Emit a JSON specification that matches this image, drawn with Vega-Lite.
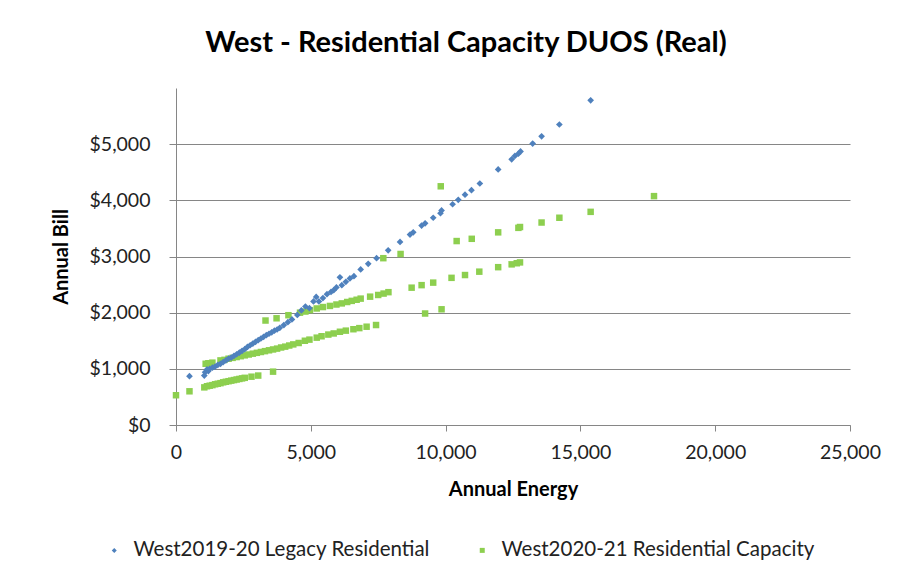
{
  "$schema": "https://vega.github.io/schema/vega-lite/v6.json",
  "autosize": "none",
  "width": 674,
  "height": 337,
  "padding": {"left": 176, "top": 88, "right": 52, "bottom": 159},
  "background": "white",
  "config": {
    "font": "Lato",
    "view": {"stroke": null}
  },
  "title": {
    "text": "West - Residential Capacity DUOS (Real)",
    "font": "Lato",
    "fontSize": 29,
    "fontWeight": "bold",
    "color": "#000000",
    "anchor": "middle",
    "dx": -47,
    "offset": 30
  },
  "datasets": {
    "legacy": [
      {"energy": 500, "bill": 870}, {"energy": 1050, "bill": 880}, {"energy": 1080, "bill": 940},
      {"energy": 1150, "bill": 990}, {"energy": 1200, "bill": 960}, {"energy": 1250, "bill": 1000},
      {"energy": 1350, "bill": 1020}, {"energy": 1450, "bill": 1040}, {"energy": 1550, "bill": 1070},
      {"energy": 1650, "bill": 1090}, {"energy": 1750, "bill": 1120}, {"energy": 1850, "bill": 1150},
      {"energy": 1950, "bill": 1180}, {"energy": 2050, "bill": 1200}, {"energy": 2150, "bill": 1230},
      {"energy": 2250, "bill": 1260}, {"energy": 2350, "bill": 1290}, {"energy": 2450, "bill": 1320},
      {"energy": 2550, "bill": 1350}, {"energy": 2650, "bill": 1390}, {"energy": 2750, "bill": 1420},
      {"energy": 2850, "bill": 1450}, {"energy": 2950, "bill": 1480}, {"energy": 3050, "bill": 1510},
      {"energy": 3150, "bill": 1540}, {"energy": 3250, "bill": 1570}, {"energy": 3350, "bill": 1600},
      {"energy": 3450, "bill": 1625}, {"energy": 3550, "bill": 1650}, {"energy": 3650, "bill": 1680},
      {"energy": 3750, "bill": 1700}, {"energy": 3850, "bill": 1730}, {"energy": 4000, "bill": 1780},
      {"energy": 4150, "bill": 1830}, {"energy": 4300, "bill": 1880}, {"energy": 4500, "bill": 1960},
      {"energy": 4650, "bill": 2040}, {"energy": 4800, "bill": 2110}, {"energy": 4950, "bill": 2080},
      {"energy": 5100, "bill": 2200}, {"energy": 5200, "bill": 2280}, {"energy": 5300, "bill": 2200},
      {"energy": 5450, "bill": 2260}, {"energy": 5600, "bill": 2330}, {"energy": 5750, "bill": 2370},
      {"energy": 5850, "bill": 2400}, {"energy": 5950, "bill": 2450}, {"energy": 6080, "bill": 2630},
      {"energy": 6150, "bill": 2490}, {"energy": 6300, "bill": 2550}, {"energy": 6450, "bill": 2610},
      {"energy": 6600, "bill": 2650}, {"energy": 6850, "bill": 2770}, {"energy": 7130, "bill": 2870},
      {"energy": 7440, "bill": 2970}, {"energy": 7870, "bill": 3110}, {"energy": 8310, "bill": 3260},
      {"energy": 8680, "bill": 3390}, {"energy": 8800, "bill": 3430}, {"energy": 9110, "bill": 3550},
      {"energy": 9240, "bill": 3590}, {"energy": 9540, "bill": 3690}, {"energy": 9810, "bill": 3770},
      {"energy": 9850, "bill": 3820}, {"energy": 10260, "bill": 3930}, {"energy": 10470, "bill": 4010},
      {"energy": 10720, "bill": 4100}, {"energy": 10960, "bill": 4180}, {"energy": 11270, "bill": 4300},
      {"energy": 11950, "bill": 4550}, {"energy": 12450, "bill": 4730}, {"energy": 12570, "bill": 4790},
      {"energy": 12700, "bill": 4830}, {"energy": 12780, "bill": 4870}, {"energy": 13230, "bill": 5010},
      {"energy": 13560, "bill": 5140}, {"energy": 14220, "bill": 5350}, {"energy": 15380, "bill": 5780}
    ],
    "capacity": [
      {"energy": 0, "bill": 530}, {"energy": 500, "bill": 600}, {"energy": 1050, "bill": 670},
      {"energy": 1150, "bill": 690}, {"energy": 1250, "bill": 700}, {"energy": 1350, "bill": 710},
      {"energy": 1450, "bill": 725}, {"energy": 1550, "bill": 735}, {"energy": 1650, "bill": 745},
      {"energy": 1750, "bill": 760}, {"energy": 1850, "bill": 770}, {"energy": 1950, "bill": 780},
      {"energy": 2050, "bill": 790}, {"energy": 2150, "bill": 800}, {"energy": 2250, "bill": 810},
      {"energy": 2350, "bill": 820}, {"energy": 2450, "bill": 830}, {"energy": 2550, "bill": 840},
      {"energy": 2800, "bill": 860}, {"energy": 3050, "bill": 880}, {"energy": 3600, "bill": 950},
      {"energy": 1100, "bill": 1090}, {"energy": 1200, "bill": 1100}, {"energy": 1350, "bill": 1110},
      {"energy": 1650, "bill": 1150}, {"energy": 1800, "bill": 1160}, {"energy": 1950, "bill": 1180},
      {"energy": 2100, "bill": 1195}, {"energy": 2250, "bill": 1210}, {"energy": 2400, "bill": 1225},
      {"energy": 2550, "bill": 1240}, {"energy": 2700, "bill": 1255}, {"energy": 2850, "bill": 1270},
      {"energy": 3000, "bill": 1285}, {"energy": 3150, "bill": 1300}, {"energy": 3300, "bill": 1315},
      {"energy": 3450, "bill": 1330}, {"energy": 3600, "bill": 1345}, {"energy": 3750, "bill": 1360},
      {"energy": 3900, "bill": 1380}, {"energy": 4050, "bill": 1395}, {"energy": 4200, "bill": 1415},
      {"energy": 4350, "bill": 1435}, {"energy": 4550, "bill": 1460}, {"energy": 4780, "bill": 1500},
      {"energy": 4950, "bill": 1520}, {"energy": 5220, "bill": 1555}, {"energy": 5400, "bill": 1580},
      {"energy": 5650, "bill": 1610}, {"energy": 5850, "bill": 1630}, {"energy": 6080, "bill": 1660},
      {"energy": 6300, "bill": 1680}, {"energy": 6580, "bill": 1705}, {"energy": 6800, "bill": 1725},
      {"energy": 7070, "bill": 1750}, {"energy": 7420, "bill": 1780},
      {"energy": 3320, "bill": 1860}, {"energy": 3730, "bill": 1900}, {"energy": 4170, "bill": 1955},
      {"energy": 4600, "bill": 2000}, {"energy": 4800, "bill": 2020}, {"energy": 4970, "bill": 2045},
      {"energy": 5220, "bill": 2075}, {"energy": 5450, "bill": 2100}, {"energy": 5710, "bill": 2120},
      {"energy": 5950, "bill": 2145}, {"energy": 6150, "bill": 2165}, {"energy": 6350, "bill": 2190},
      {"energy": 6520, "bill": 2210}, {"energy": 6700, "bill": 2230}, {"energy": 6850, "bill": 2250},
      {"energy": 7200, "bill": 2285}, {"energy": 7500, "bill": 2315}, {"energy": 7700, "bill": 2340},
      {"energy": 7880, "bill": 2365}, {"energy": 8740, "bill": 2445}, {"energy": 9110, "bill": 2490},
      {"energy": 9540, "bill": 2535}, {"energy": 10220, "bill": 2620}, {"energy": 10720, "bill": 2670},
      {"energy": 11250, "bill": 2730}, {"energy": 11950, "bill": 2810}, {"energy": 12450, "bill": 2860},
      {"energy": 12640, "bill": 2880}, {"energy": 12760, "bill": 2895},
      {"energy": 7690, "bill": 2970}, {"energy": 8330, "bill": 3045}, {"energy": 10410, "bill": 3275},
      {"energy": 10970, "bill": 3315}, {"energy": 11950, "bill": 3430}, {"energy": 12700, "bill": 3510},
      {"energy": 12760, "bill": 3525}, {"energy": 13560, "bill": 3605}, {"energy": 14220, "bill": 3690},
      {"energy": 15380, "bill": 3795}, {"energy": 17730, "bill": 4075},
      {"energy": 9820, "bill": 4250}, {"energy": 9240, "bill": 1985}, {"energy": 9850, "bill": 2060}
    ]
  },
  "layer": [
    {
      "data": {"name": "capacity"},
      "transform": [{"calculate": "'West2020-21 Residential Capacity'", "as": "series"}],
      "mark": {"type": "point", "filled": true, "opacity": 1, "size": 42},
      "encoding": {
        "x": {"field": "energy", "type": "quantitative"},
        "y": {"field": "bill", "type": "quantitative"},
        "color": {"field": "series", "type": "nominal"},
        "shape": {"field": "series", "type": "nominal"}
      }
    },
    {
      "data": {"name": "legacy"},
      "transform": [{"calculate": "'West2019-20 Legacy Residential'", "as": "series"}],
      "mark": {"type": "point", "filled": true, "opacity": 1, "size": 45},
      "encoding": {
        "x": {
          "field": "energy", "type": "quantitative",
          "scale": {"domain": [0, 25000], "nice": false},
          "axis": {
            "title": "Annual Energy",
            "values": [0, 5000, 10000, 15000, 20000, 25000],
            "format": ",.0f",
            "grid": false,
            "labelFlush": false,
            "labelOverlap": false,
            "domainColor": "#868686",
            "tickColor": "#868686",
            "tickSize": 6,
            "labelFont": "Lato",
            "labelFontSize": 19.5,
            "labelColor": "#222222",
            "labelPadding": 12,
            "titleFont": "Lato",
            "titleFontSize": 20,
            "titleFontWeight": "bold",
            "titleColor": "#000000",
            "titlePadding": 18
          }
        },
        "y": {
          "field": "bill", "type": "quantitative",
          "scale": {"domain": [0, 6000], "nice": false},
          "axis": {
            "title": "Annual Bill",
            "values": [0, 1000, 2000, 3000, 4000, 5000],
            "format": "$,.0f",
            "grid": true,
            "labelFlush": false,
            "gridColor": "#868686",
            "gridWidth": 1,
            "domainColor": "#868686",
            "tickColor": "#868686",
            "tickSize": 7,
            "labelFont": "Lato",
            "labelFontSize": 19.5,
            "labelColor": "#222222",
            "labelPadding": 19,
            "titleFont": "Lato",
            "titleFontSize": 20,
            "titleFontWeight": "bold",
            "titleColor": "#000000",
            "titlePadding": 18
          }
        },
        "color": {
          "field": "series", "type": "nominal",
          "scale": {
            "domain": ["West2019-20 Legacy Residential", "West2020-21 Residential Capacity"],
            "range": ["#4F81BD", "#8DCF4F"]
          },
          "legend": {
            "title": null,
            "orient": "none",
            "direction": "horizontal",
            "legendX": -72,
            "legendY": 452,
            "labelFont": "Lato",
            "labelFontSize": 20.5,
            "labelColor": "#222222",
            "symbolSize": 25,
            "columnPadding": 42,
            "labelOffset": 9,
            "labelLimit": 400
          }
        },
        "shape": {
          "field": "series", "type": "nominal",
          "scale": {
            "domain": ["West2019-20 Legacy Residential", "West2020-21 Residential Capacity"],
            "range": ["diamond", "square"]
          }
        }
      }
    }
  ]
}
